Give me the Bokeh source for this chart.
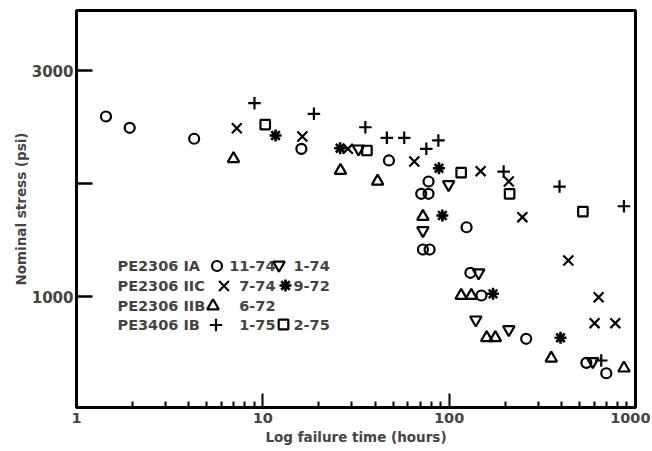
from bokeh.plotting import figure
from bokeh.models import Range1d, FixedTicker, Label, Legend, LegendItem
from bokeh.embed import file_html
from bokeh.resources import INLINE

FONT = "DejaVu Sans"

# ---------------- data ----------------
x_major_ticks = [1, 10, 100, 1000]
x_minor_ticks = [2, 3, 4, 5, 6, 7, 8, 9,
                 20, 30, 40, 50, 60, 70, 80, 90,
                 200, 300, 400, 500, 600, 700, 800, 900]
x_tick_labels = {1: "1", 10: "10", 100: "100", 1000: "1000"}
y_ticks = [1000, 2000, 3000]
y_tick_labels = {1000: "1000", 2000: "", 3000: "3000"}

# PE2306 IA, 11-74 (circles)
ia_1174_t = [1.44, 1.93, 4.28, 16.1, 47.5, 77.5, 70.8, 77.5, 124, 72.3, 78.5, 130, 149, 259, 545, 697]
ia_1174_s = [2593, 2493, 2396, 2307, 2204, 2018, 1909, 1909, 1613, 1416, 1416, 1210, 1009, 626, 413, 321]
# PE2306 IA, 1-74 (inverted triangles)
ia_174_t = [32.6, 99.3, 72.3, 144, 139, 209, 590]
ia_174_s = [2307, 1991, 1584, 1210, 794, 708, 425]
# PE2306 IIC, 7-74 (x)
iic_774_t = [7.25, 16.3, 28.6, 65, 147.5, 209, 247, 436, 634, 603, 779]
iic_774_s = [2489, 2416, 2307, 2195, 2109, 2018, 1702, 1319, 994, 764, 764]
# PE2306 IIC, 9-72 (asterisk)
iic_972_t = [11.7, 26.0, 88.1, 91.9, 172, 396]
iic_972_s = [2425, 2312, 2135, 1717, 1024, 635]
# PE2306 IIB, 6-72 (triangles)
iib_672_t = [6.96, 26.1, 41.3, 72.3, 116, 131.5, 159, 177, 353, 867]
iib_672_s = [2219, 2115, 2020, 1708, 1009, 1009, 635, 635, 454, 366]
# PE3406 IB, 1-75 (crosses)
ib_175_t = [9.02, 18.8, 35.5, 46.3, 57.4, 75.4, 87.5, 196, 391, 867, 655]
ib_175_s = [2711, 2617, 2498, 2404, 2404, 2307, 2381, 2106, 1973, 1799, 434]
# PE3406 IB, 2-75 (squares)
ib_275_t = [10.3, 36.2, 116, 211, 522]
ib_275_s = [2522, 2292, 2097, 1909, 1752]

legend_rows = ["PE2306 IA", "PE2306 IIC", "PE2306 IIB", "PE3406 IB"]
legend_col1 = ["11-74", "7-74", "6-72", "1-75"]
legend_col2 = ["1-74", "9-72", "", "2-75"]

# ---------------- figure ----------------
p = figure(width=650, height=451, x_axis_type="log",
           x_range=Range1d(1, 1000), y_range=Range1d(18, 3531),
           output_backend="svg", toolbar_location=None,
           min_border_left=76, min_border_right=15,
           min_border_top=10, min_border_bottom=44)
p.grid.visible = False
p.outline_line_color = "black"
p.outline_line_width = 3
p.background_fill_color = "white"
p.border_fill_color = "white"

xa = p.xaxis[0]
xa.ticker = FixedTicker(ticks=x_major_ticks, minor_ticks=x_minor_ticks)
xa.major_label_overrides = x_tick_labels
xa.axis_line_width = 3
xa.major_tick_in = 14
xa.major_tick_out = 0
xa.minor_tick_in = 6
xa.minor_tick_out = 0
xa.major_tick_line_width = 2
xa.minor_tick_line_width = 2
xa.major_label_text_font = FONT
xa.major_label_text_font_style = "bold"
xa.major_label_text_font_size = "14.5px"
xa.major_label_standoff = 5
xa.axis_label = "Log failure time (hours)"
xa.axis_label_text_font = FONT
xa.axis_label_text_font_style = "bold"
xa.axis_label_text_font_size = "13.5px"
xa.axis_label_standoff = 3

ya = p.yaxis[0]
ya.ticker = FixedTicker(ticks=y_ticks, minor_ticks=[])
ya.major_label_overrides = y_tick_labels
ya.axis_line_width = 3
ya.major_tick_in = 16
ya.major_tick_out = 0
ya.major_tick_line_width = 2.5
ya.minor_tick_line_color = None
ya.major_label_text_font = FONT
ya.major_label_text_font_style = "bold"
ya.major_label_text_font_size = "15px"
ya.major_label_standoff = 3
ya.axis_label = "Nominal stress (psi)"
ya.axis_label_text_font = FONT
ya.axis_label_text_font_style = "bold"
ya.axis_label_text_font_size = "13.5px"
ya.axis_label_standoff = 0

LW = 2.2
r_ia1174 = p.scatter(ia_1174_t, ia_1174_s, marker="circle", size=10,
                     fill_color=None, line_color="black", line_width=LW)
r_ia174 = p.scatter(ia_174_t, ia_174_s, marker="inverted_triangle", size=11.5,
                    fill_color=None, line_color="black", line_width=LW)
r_iic774 = p.scatter(iic_774_t, iic_774_s, marker="x", size=14,
                     fill_color=None, line_color="black", line_width=LW)
r_iic972 = p.scatter(iic_972_t, iic_972_s, marker="asterisk", size=12,
                     fill_color=None, line_color="black", line_width=2.6)
r_iib672 = p.scatter(iib_672_t, iib_672_s, marker="triangle", size=11.5,
                     fill_color=None, line_color="black", line_width=LW)
r_ib175 = p.scatter(ib_175_t, ib_175_s, marker="cross", size=12.5,
                    fill_color=None, line_color="black", line_width=LW)
r_ib275 = p.scatter(ib_275_t, ib_275_s, marker="square", size=9.5,
                    fill_color=None, line_color="black", line_width=LW)

# legend symbols (frame-relative screen positions of symbol centres)
sym_specs = [
    (r_ia1174, 10, 140, 142),
    (r_ia174, 11.5, 202, 143),
    (r_iic774, 14, 147, 122),
    (r_iic972, 12, 209, 122),
    (r_iib672, 11.5, 136, 102),
    (r_ib175, 12.5, 139, 83),
    (r_ib275, 9.5, 207, 83),
]
for r, sz, cx, cy in sym_specs:
    box = int(round(sz / 0.4))
    leg = Legend(items=[LegendItem(label=" ", renderers=[r])],
                 location=(cx - box / 2, cy - box / 2),
                 glyph_width=box, glyph_height=box,
                 label_width=0, label_height=0, label_standoff=0,
                 label_text_font_size="1px",
                 padding=0, margin=0, spacing=0,
                 border_line_alpha=0, background_fill_alpha=0)
    p.add_layout(leg)

row_y = [142, 121.5, 102, 83]
for i, yy in enumerate(row_y):
    p.add_layout(Label(x=41, y=yy, x_units="screen", y_units="screen",
                       text=legend_rows[i], text_font=FONT, text_font_style="bold",
                       text_font_size="14.5px", text_baseline="middle", text_align="left"))
    p.add_layout(Label(x=199, y=yy, x_units="screen", y_units="screen",
                       text=legend_col1[i], text_font=FONT, text_font_style="bold",
                       text_font_size="14.5px", text_baseline="middle", text_align="right"))
    if legend_col2[i]:
        p.add_layout(Label(x=217, y=yy, x_units="screen", y_units="screen",
                           text=legend_col2[i], text_font=FONT, text_font_style="bold",
                           text_font_size="14.5px", text_baseline="middle", text_align="left"))

open("out.html", "w").write(file_html(p, INLINE))
